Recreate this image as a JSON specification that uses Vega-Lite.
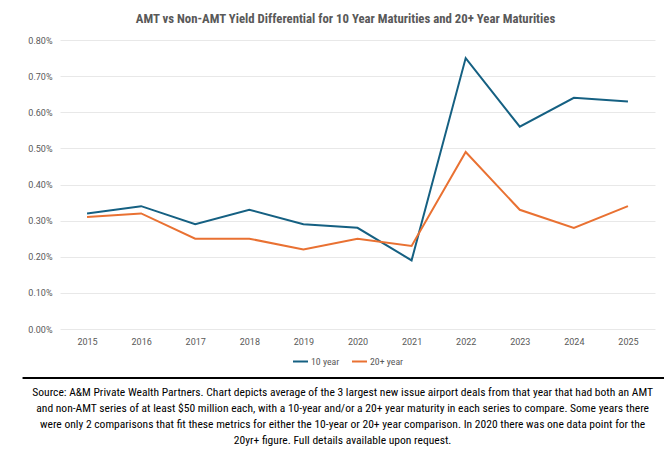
{
  "$schema": "https://vega.github.io/schema/vega-lite/v6.json",
  "padding": {"left": 0, "top": 13, "right": 0, "bottom": 0},
  "background": "white",
  "config": {
    "font": "Roboto Condensed, Roboto",
    "view": {"stroke": null}
  },
  "spacing": 10,
  "resolve": {"scale": {"color": "independent", "x": "independent", "y": "independent"}, "legend": {"color": "independent"}},
  "vconcat": [
    {
      "width": 595,
      "height": 289,
      "title": {
        "text": "AMT vs Non-AMT Yield Differential for 10 Year Maturities and 20+ Year Maturities",
        "fontSize": 12.8,
        "fontWeight": "bold",
        "color": "#595959",
        "anchor": "middle",
        "dx": -12,
        "offset": 10
      },
      "data": {
        "values": [
          {"year": "2015", "series": "10 year", "value": 0.0032},
          {"year": "2016", "series": "10 year", "value": 0.0034},
          {"year": "2017", "series": "10 year", "value": 0.0029},
          {"year": "2018", "series": "10 year", "value": 0.0033},
          {"year": "2019", "series": "10 year", "value": 0.0029},
          {"year": "2020", "series": "10 year", "value": 0.0028},
          {"year": "2021", "series": "10 year", "value": 0.0019},
          {"year": "2022", "series": "10 year", "value": 0.0075},
          {"year": "2023", "series": "10 year", "value": 0.0056},
          {"year": "2024", "series": "10 year", "value": 0.0064},
          {"year": "2025", "series": "10 year", "value": 0.0063},
          {"year": "2015", "series": "20+ year", "value": 0.0031},
          {"year": "2016", "series": "20+ year", "value": 0.0032},
          {"year": "2017", "series": "20+ year", "value": 0.0025},
          {"year": "2018", "series": "20+ year", "value": 0.0025},
          {"year": "2019", "series": "20+ year", "value": 0.0022},
          {"year": "2020", "series": "20+ year", "value": 0.0025},
          {"year": "2021", "series": "20+ year", "value": 0.0023},
          {"year": "2022", "series": "20+ year", "value": 0.0049},
          {"year": "2023", "series": "20+ year", "value": 0.0033},
          {"year": "2024", "series": "20+ year", "value": 0.0028},
          {"year": "2025", "series": "20+ year", "value": 0.0034}
        ]
      },
      "mark": {"type": "line", "strokeWidth": 2},
      "encoding": {
        "x": {
          "field": "year",
          "type": "ordinal",
          "scale": {"type": "point", "padding": 0.5},
          "axis": {
            "title": null,
            "labelAngle": 0,
            "domain": false,
            "ticks": false,
            "grid": false,
            "labelPadding": 8,
            "labelFontSize": 9,
            "labelColor": "#595959",
            "labelFont": "Roboto"
          }
        },
        "y": {
          "field": "value",
          "type": "quantitative",
          "scale": {"domain": [0, 0.008]},
          "axis": {
            "title": null,
            "format": ".2%",
            "values": [0, 0.001, 0.002, 0.003, 0.004, 0.005, 0.006, 0.007, 0.008],
            "domain": false,
            "ticks": false,
            "labelPadding": 8,
            "minExtent": 60,
            "maxExtent": 60,
            "labelFontSize": 9,
            "labelColor": "#595959",
            "labelFont": "Roboto",
            "gridColor": "#e8e8e8",
            "gridWidth": 1
          }
        },
        "color": {
          "field": "series",
          "type": "nominal",
          "scale": {"domain": ["10 year", "20+ year"], "range": ["#156082", "#E97132"]},
          "legend": {
            "title": null,
            "orient": "none",
            "legendX": 232,
            "legendY": 313,
            "direction": "horizontal",
            "gridAlign": "none",
            "symbolType": "stroke",
            "symbolStrokeWidth": 2,
            "symbolSize": 225,
            "labelFontSize": 9.8,
            "labelFont": "Roboto Condensed",
            "labelColor": "#595959",
            "columnPadding": 8,
            "labelOffset": 2
          }
        }
      }
    },
    {
      "width": 595,
      "height": 78,
      "data": {
        "values": [
          {"line": 1, "text": "Source: A&M Private Wealth Partners. Chart depicts average of the 3 largest new issue airport deals from that year that had both an AMT"},
          {"line": 2, "text": "and non-AMT series of at least $50 million each, with a 10-year and/or a 20+ year maturity in each series to compare. Some years there"},
          {"line": 3, "text": "were only 2 comparisons that fit these metrics for either the 10-year or 20+ year comparison.  In 2020 there was one data point for the"},
          {"line": 4, "text": "20yr+ figure. Full details available upon request."}
        ]
      },
      "layer": [
        {
          "mark": {"type": "rule", "color": "#000000", "strokeWidth": 1.5, "clip": false},
          "encoding": {
            "x": {"datum": -1.125, "type": "quantitative", "scale": {"domain": [-1, 1]}, "axis": null},
            "x2": {"datum": 1.03},
            "y": {"value": 0}
          }
        },
        {
          "mark": {"type": "text", "fontSize": 11.55, "color": "#000000", "align": "center", "baseline": "middle"},
          "encoding": {
            "x": {"datum": -0.05, "type": "quantitative", "scale": {"domain": [-1, 1]}, "axis": null},
            "y": {
              "field": "line",
              "type": "ordinal",
              "scale": {"type": "point", "padding": 0.95},
              "axis": null
            },
            "text": {"field": "text"}
          }
        }
      ]
    }
  ]
}
